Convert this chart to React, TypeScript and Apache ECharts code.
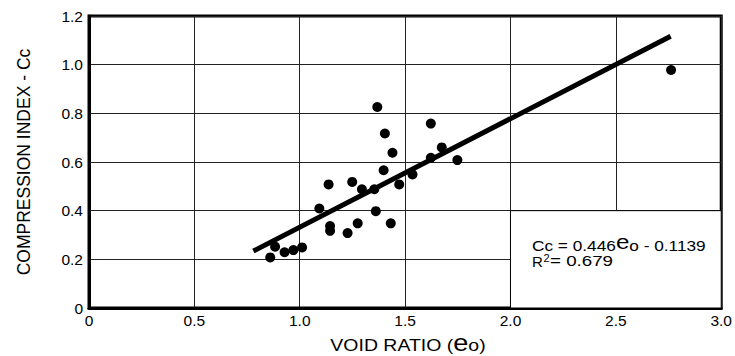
import React, { useEffect, useRef } from "react";
import * as echarts from "echarts";

const voidRatio = [
  0.86, 0.883, 0.928, 0.97, 1.011, 1.093, 1.137, 1.144, 1.144, 1.227,
  1.249, 1.275, 1.295, 1.354, 1.361, 1.368, 1.404, 1.398, 1.44, 1.432,
  1.472, 1.535, 1.622, 1.622, 1.674, 1.748, 2.762,
];
const compressionIndex = [
  0.208, 0.252, 0.229, 0.238, 0.249, 0.409, 0.508, 0.337, 0.317, 0.308,
  0.518, 0.348, 0.488, 0.488, 0.398, 0.826, 0.717, 0.566, 0.638, 0.348,
  0.508, 0.549, 0.758, 0.617, 0.66, 0.608, 0.978,
];
const slope = 0.446;
const intercept = -0.1139;
const fitRange = [0.78, 2.76];
const xTicks = ["0", "0.5", "1.0", "1.5", "2.0", "2.5", "3.0"];
const yTicks = ["0", "0.2", "0.4", "0.6", "0.8", "1.0", "1.2"];

const FONT = "'Liberation Sans', Arial, sans-serif";

export default function App() {
  const ref = useRef<HTMLDivElement>(null);
  useEffect(() => {
    if (!ref.current) return;
    document.body.style.margin = "0";
    const chart = echarts.init(ref.current, undefined, { renderer: "svg" });
    const points = voidRatio.map((x, i) => [x, compressionIndex[i]]);
    const fit = fitRange.map((x) => [x, slope * x + intercept]);
    chart.setOption({
      animation: false,
      textStyle: { fontFamily: FONT },
      grid: {
        left: 89,
        right: 11,
        top: 16,
        bottom: 48,
        show: true,
        borderColor: "#000",
        borderWidth: 3,
        backgroundColor: "transparent",
      },
      xAxis: {
        type: "value",
        min: 0,
        max: 3,
        interval: 0.5,
        axisLine: { show: true, lineStyle: { color: "#000", width: 3 } },
        axisTick: { show: false },
        splitLine: { show: true, lineStyle: { color: "#222", width: 1 } },
        axisLabel: {
          color: "#000",
          fontSize: 15.5,
          fontFamily: FONT,
          margin: 4,
          showMaxLabel: true,
          formatter: (v: number) => xTicks[Math.round(v / 0.5)],
        },
      },
      yAxis: {
        type: "value",
        min: 0,
        max: 1.2,
        interval: 0.2,
        axisLine: { show: true, lineStyle: { color: "#000", width: 3 } },
        axisTick: { show: false },
        splitLine: { show: true, lineStyle: { color: "#222", width: 1 } },
        axisLabel: {
          color: "#000",
          fontSize: 15.5,
          fontFamily: FONT,
          margin: 6,
          formatter: (v: number) => yTicks[Math.round(v / 0.2)],
        },
        name: "COMPRESSION INDEX - Cc",
        nameLocation: "middle",
        nameGap: 56,
        nameTextStyle: { fontSize: 17.5, color: "#000", fontFamily: FONT },
      },
      series: [
        {
          type: "scatter",
          data: points,
          symbol: "circle",
          symbolSize: 10,
          itemStyle: { color: "#000", opacity: 1 },
          z: 5,
          markArea: {
            silent: true,
            itemStyle: { color: "#fff", opacity: 1, borderColor: "#000", borderWidth: 1 },
            data: [[{ coord: [2.0, 0] }, { coord: [3.0, 0.4] }]],
          },
        },
        {
          type: "line",
          data: fit,
          showSymbol: false,
          symbol: "none",
          lineStyle: { color: "#000", width: 5 },
          z: 4,
        },
      ],
      graphic: [
        {
          type: "text",
          x: 408,
          y: 331,
          scaleX: 1.18,
          z: 10,
          style: {
            text: "{n|VOID RATIO (}{e|e}{n|o)}",
            align: "center",
            verticalAlign: "top",
            rich: {
              n: { fontSize: 16.5, fontFamily: FONT, fill: "#000", lineHeight: 16.5, verticalAlign: "bottom" },
              e: { fontSize: 23, fontFamily: FONT, fill: "#000", lineHeight: 23, verticalAlign: "bottom" },
            },
          },
        },
        {
          type: "text",
          x: 532,
          y: 232,
          scaleX: 1.15,
          z: 10,
          style: {
            text: "{n|Cc = 0.446}{e|e}{n|o - 0.1139}",
            align: "left",
            verticalAlign: "top",
            rich: {
              n: { fontSize: 15, fontFamily: FONT, fill: "#000", lineHeight: 15, verticalAlign: "bottom" },
              e: { fontSize: 21, fontFamily: FONT, fill: "#000", lineHeight: 21, verticalAlign: "bottom" },
            },
          },
        },
        {
          type: "text",
          x: 532,
          y: 261.5,
          z: 10,
          style: { text: "R", fontSize: 15, fontFamily: FONT, fill: "#000", verticalAlign: "middle" },
        },
        {
          type: "text",
          x: 543.5,
          y: 258,
          z: 10,
          style: { text: "2", fontSize: 11, fontFamily: FONT, fill: "#000", verticalAlign: "middle" },
        },
        {
          type: "text",
          x: 550,
          y: 261.5,
          scaleX: 1.25,
          z: 10,
          style: { text: "= 0.679", fontSize: 15, fontFamily: FONT, fill: "#000", verticalAlign: "middle" },
        },
      ],
    });
    return () => chart.dispose();
  }, []);
  return <div ref={ref} style={{ width: 735, height: 356 }} />;
}
